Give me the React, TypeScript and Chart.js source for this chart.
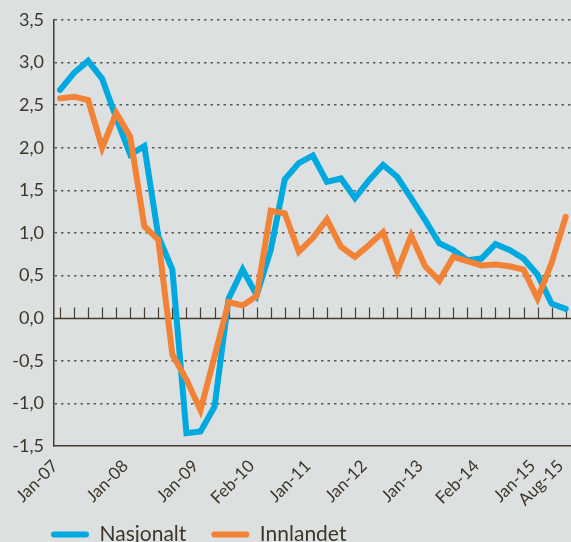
import React, { useEffect, useRef } from 'react';
import { Chart, registerables } from 'chart.js';

Chart.register(...registerables);

// Series values, one per period (37 periods)
const nasjonalt = [
  2.68, 2.88, 3.02, 2.81, 2.35, 1.92, 2.02, 0.96, 0.57, -1.35,
  -1.33, -1.04, 0.23, 0.57, 0.27, 0.80, 1.63, 1.82, 1.91, 1.60,
  1.64, 1.41, 1.62, 1.80, 1.66, 1.41, 1.15, 0.88, 0.80, 0.68,
  0.70, 0.87, 0.80, 0.70, 0.51, 0.17, 0.11,
];
const innlandet = [
  2.58, 2.60, 2.56, 2.00, 2.41, 2.13, 1.08, 0.92, -0.43, -0.72,
  -1.08, -0.45, 0.19, 0.15, 0.26, 1.26, 1.23, 0.78, 0.94, 1.16,
  0.84, 0.72, 0.86, 1.01, 0.55, 0.97, 0.61, 0.44, 0.72, 0.67,
  0.62, 0.63, 0.61, 0.57, 0.23, 0.65, 1.19,
];

// Category labels shown on the x axis, at their period index
const xTickPositions = [0, 5, 10, 14, 18, 22, 26, 30, 34, 36];
const xTickLabels = ['Jan-07', 'Jan-08', 'Jan-09', 'Feb-10', 'Jan-11', 'Jan-12', 'Jan-13', 'Feb-14', 'Jan-15', 'Aug-15'];

const seriesNames = ['Nasjonalt', 'Innlandet'];
const yMin = -1.5;
const yMax = 3.5;
const yStep = 0.5;

const BLUE = '#00a9e0';
const ORANGE = '#f28336';
const TEXT = '#3e3628';
const AXIS = '#463d2f';
const FONT = 'Lato, "Open Sans", sans-serif';

const zeroAxisPlugin = {
  id: 'zeroAxis',
  beforeDatasetsDraw(chart: any) {
    const { ctx, chartArea, scales } = chart;
    const x = scales.x;
    const y = scales.y;
    const y0 = Math.round(y.getPixelForValue(0)) + 0.5;
    ctx.save();
    ctx.strokeStyle = AXIS;
    ctx.lineWidth = 1.5;
    ctx.beginPath();
    ctx.moveTo(chartArea.left, y0);
    ctx.lineTo(chartArea.right, y0);
    ctx.stroke();
    ctx.lineWidth = 1.2;
    ctx.beginPath();
    nasjonalt.forEach((_, i) => {
      const px = Math.round(x.getPixelForValue(i)) + 0.5;
      ctx.moveTo(px, y0 - 11);
      ctx.lineTo(px, y0);
    });
    ctx.stroke();
    ctx.restore();
  },
};

const noLabelClip = (scale: any) => {
  scale._computeLabelArea = () => undefined;
};

export default function App() {
  const canvasRef = useRef<HTMLCanvasElement | null>(null);

  useEffect(() => {
    if (!canvasRef.current) return;
    const chart = new Chart(canvasRef.current, {
      type: 'line',
      data: {
        datasets: [
          {
            label: seriesNames[0],
            data: nasjonalt.map((v, i) => ({ x: i, y: v })),
            borderColor: BLUE,
            backgroundColor: BLUE,
            borderWidth: 6,
            pointRadius: 0,
            tension: 0,
            borderCapStyle: 'round',
            borderJoinStyle: 'miter',
            order: 1,
          },
          {
            label: seriesNames[1],
            data: innlandet.map((v, i) => ({ x: i, y: v })),
            borderColor: ORANGE,
            backgroundColor: ORANGE,
            borderWidth: 6,
            pointRadius: 0,
            tension: 0,
            borderCapStyle: 'round',
            borderJoinStyle: 'miter',
            order: 0,
          },
        ],
      },
      options: {
        responsive: false,
        animation: false,
        layout: { padding: { left: 26, right: 0, top: 20, bottom: -13 } },
        scales: {
          x: {
            type: 'linear',
            min: -0.43,
            max: 36.38,
            afterBuildTicks: (scale: any) => {
              scale.ticks = xTickPositions.map((v) => ({ value: v }));
            },
            afterFit: (scale: any) => {
              scale.height = 53;
              scale.paddingLeft = 0;
              scale.paddingRight = 0;
              noLabelClip(scale);
            },
            grid: { display: false, drawTicks: false },
            border: { display: true, color: AXIS, width: 1.5 },
            ticks: {
              autoSkip: false,
              minRotation: 45,
              maxRotation: 45,
              padding: 10,
              labelOffset: -5,
              color: TEXT,
              font: { family: FONT, size: 17 },
              callback: (_v: any, index: number) => xTickLabels[index],
            },
          },
          y: {
            min: yMin,
            max: yMax,
            afterFit: (scale: any) => {
              scale.width = 28;
              scale.paddingTop = 0;
              scale.paddingBottom = 0;
              noLabelClip(scale);
            },
            grid: {
              drawTicks: false,
              color: (ctx: any) =>
                ctx.tick && (ctx.tick.value === 0 || ctx.tick.value === yMin) ? 'rgba(0,0,0,0)' : '#5e5a4f',
              lineWidth: 1.5,
            },
            border: { display: true, color: AXIS, width: 1.5, dash: [2.5, 4] },
            ticks: {
              stepSize: yStep,
              padding: 10,
              color: TEXT,
              font: { family: FONT, size: 18 },
              callback: (v: any) => Number(v).toFixed(1).replace('.', ','),
            },
          },
        },
        plugins: {
          tooltip: { enabled: false },
          legend: {
            position: 'bottom',
            align: 'start',
            labels: {
              color: TEXT,
              font: { family: FONT, size: 21 },
              boxWidth: 38,
              boxHeight: 6,
              padding: 25,
              sort: (a: any, b: any) => a.datasetIndex - b.datasetIndex,
              generateLabels: (ch: any) =>
                Chart.defaults.plugins.legend.labels
                  .generateLabels(ch)
                  .map((item: any) => ({ ...item, lineWidth: 0, borderRadius: 3 })),
            },
          },
        },
      },
      plugins: [zeroAxisPlugin],
    } as any);
    return () => chart.destroy();
  }, []);

  return (
    <div
      style={{
        position: 'absolute',
        left: 0,
        top: 0,
        width: 571,
        height: 542,
        background: '#dce0e0',
        overflow: 'hidden',
      }}
    >
      <canvas ref={canvasRef} width={571} height={542} style={{ display: 'block' }} />
    </div>
  );
}
